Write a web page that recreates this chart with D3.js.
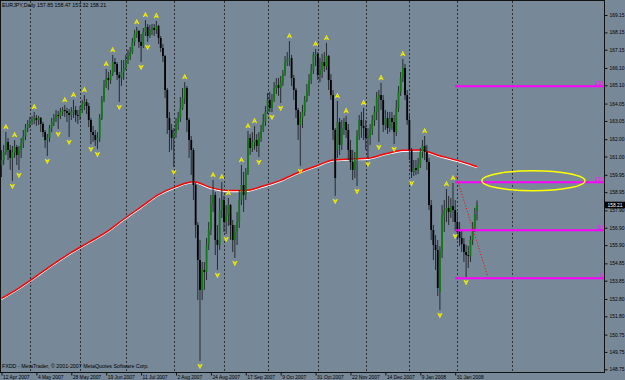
<!DOCTYPE html>
<html>
<head>
<meta charset="utf-8">
<script src="https://cdn.jsdelivr.net/npm/d3@7"></script>
<style>
body { margin: 0; background: #778899; }
svg { display: block; font-family: "Liberation Sans", Arial, sans-serif; }
</style>
</head>
<body>
<svg id="chart" width="625" height="380"></svg>
<script>
// EURJPY daily bars, 12 Apr 2007 .. 14 Feb 2008
var opens = [160.51,160.80,161.26,161.84,161.38,160.92,161.26,161.55,161.09,161.38,161.78,162.18,162.64,162.87,163.05,163.16,163.22,163.10,163.22,162.87,
  162.41,161.95,162.07,162.64,162.99,163.22,163.39,163.34,163.57,163.68,163.62,163.51,163.39,163.57,163.68,163.39,163.34,163.68,164.03,164.14,
  163.91,163.10,162.41,162.24,161.95,162.07,163.22,164.26,165.06,165.52,165.41,165.75,166.44,166.33,165.70,165.52,165.87,166.10,166.56,166.79,
  167.02,167.60,168.06,168.23,167.60,167.37,168.17,168.46,167.94,168.29,168.40,168.29,168.52,167.83,167.25,166.79,164.83,163.22,162.53,162.07,
  162.36,162.87,163.22,163.80,164.37,164.95,163.10,161.95,161.38,159.36,157.06,155.04,153.32,154.47,154.35,155.91,156.77,158.21,158.79,156.20,
  155.91,157.92,158.50,157.23,157.63,158.21,157.06,156.20,156.66,157.23,158.50,159.36,158.79,160.11,162.07,161.49,161.84,161.95,161.61,162.07,
  162.53,162.99,163.57,164.26,163.80,164.26,164.95,165.12,164.95,165.29,165.75,166.44,166.56,166.67,165.52,164.83,163.68,162.82,163.22,163.57,
  164.26,164.72,165.41,165.98,166.79,166.91,165.70,165.98,166.44,166.21,166.79,165.41,164.54,162.53,161.38,162.99,161.67,162.64,162.99,162.53,
  161.38,160.69,160.23,160.80,162.24,163.10,162.76,162.64,162.07,162.18,162.53,163.10,163.57,164.37,164.54,164.26,162.82,163.22,162.64,163.22,
  162.99,162.41,163.80,164.72,165.52,166.10,164.54,163.10,161.38,160.11,160.34,160.23,160.51,161.26,161.61,161.26,160.69,158.21,156.77,155.91,
  155.62,153.20,155.62,157.63,157.92,158.04,157.81,158.15,157.92,157.23,156.66,156.31,155.96,155.50,155.33,155.27,156.20,156.89,157.85];
var highs = [161.38,161.67,162.41,162.07,161.67,161.61,161.95,161.67,161.61,162.07,162.53,162.87,163.10,163.28,163.34,163.57,163.39,163.34,163.28,162.99,
  162.53,162.30,162.82,163.22,163.45,163.68,163.62,163.80,163.85,163.97,163.80,163.74,163.85,164.26,163.91,163.68,163.91,164.26,164.54,164.31,
  164.08,163.22,162.76,162.53,162.41,163.45,164.49,165.41,166.04,165.87,165.98,166.85,166.67,166.44,165.87,166.56,166.56,166.85,167.14,167.31,
  167.83,168.29,168.46,168.29,168.06,168.40,168.86,168.63,168.58,168.63,168.63,168.81,168.58,167.94,167.48,166.85,164.95,163.57,162.87,162.64,
  163.22,163.57,164.43,164.95,165.29,165.06,163.22,162.18,161.49,159.48,157.23,156.20,154.93,154.93,156.31,157.23,158.79,159.65,158.96,157.06,
  158.61,159.53,158.73,158.21,158.61,158.27,157.35,157.06,157.81,159.07,160.51,160.11,160.34,162.47,162.30,162.41,162.76,162.30,162.41,162.82,
  163.45,163.91,164.66,164.72,164.60,165.29,165.52,165.52,165.64,165.98,166.79,167.02,167.65,166.85,165.70,164.95,163.80,163.57,163.97,164.49,
  165.18,165.75,166.33,167.02,167.19,167.02,166.67,166.91,167.02,167.54,166.85,165.75,164.83,162.64,164.20,163.22,163.10,163.22,163.34,162.87,
  161.95,161.38,161.26,162.53,163.39,163.57,163.80,163.10,162.64,162.87,163.39,163.91,164.72,164.83,165.24,164.54,163.68,163.57,163.57,163.57,
  163.39,164.26,165.06,165.87,166.62,166.33,164.83,163.39,161.49,160.80,160.80,160.92,161.49,161.95,162.18,161.67,160.92,158.50,157.06,156.48,
  156.20,155.85,158.21,158.50,159.13,158.73,158.61,159.48,158.50,157.81,157.23,156.77,156.31,155.91,155.85,156.43,157.23,158.04,158.47];
var lows = [159.82,160.51,161.09,160.80,160.23,159.59,160.92,160.51,160.23,160.92,161.49,161.95,162.41,162.64,162.82,162.87,162.76,162.82,162.41,162.13,
  161.49,161.03,161.84,162.41,162.76,162.99,162.59,163.16,163.34,163.28,162.99,162.13,163.10,163.22,162.99,162.87,163.10,163.51,163.68,163.45,
  162.70,161.72,161.84,161.61,161.43,161.84,163.10,164.14,164.95,164.83,165.18,165.64,165.87,165.41,164.14,165.06,165.41,165.98,166.33,166.56,
  166.91,167.37,167.83,167.25,166.44,167.25,167.94,167.60,167.83,168.00,167.94,168.06,167.48,167.02,166.44,164.37,162.30,161.26,161.38,160.40,
  162.07,162.53,162.99,163.68,164.03,162.41,160.92,159.94,158.50,156.31,152.74,149.23,152.74,153.32,153.89,155.62,156.48,157.81,155.33,154.47,
  155.62,157.46,156.66,156.54,157.00,156.20,155.50,155.16,155.91,156.89,158.21,157.81,158.50,159.94,161.09,161.26,161.38,161.26,160.97,161.84,
  162.41,162.76,163.45,163.57,163.57,164.14,164.60,164.49,164.08,165.06,165.64,166.21,166.21,165.06,164.26,163.22,161.95,160.46,162.64,163.34,
  164.14,164.49,165.18,165.75,166.21,165.41,165.29,165.52,165.87,165.98,164.83,164.26,161.95,158.73,160.92,161.09,161.38,162.24,162.07,160.80,
  160.23,159.65,159.76,159.30,161.95,162.07,161.95,161.38,160.86,161.67,162.24,162.76,163.10,161.84,163.68,162.41,162.53,162.30,162.41,162.53,
  161.72,162.18,163.57,164.49,165.29,164.26,162.82,160.80,159.76,159.88,159.94,159.99,160.34,160.92,160.80,160.23,157.92,156.20,155.04,154.47,
  152.97,152.16,155.16,156.66,157.23,157.06,157.46,157.23,156.71,156.20,155.85,155.50,154.93,154.06,154.58,154.93,155.91,156.66,157.32];
var closes = [160.80,161.26,161.84,161.38,160.92,161.26,161.55,161.09,161.38,161.78,162.18,162.64,162.87,163.05,163.16,163.22,163.10,163.22,162.87,162.41,
  161.95,162.07,162.64,162.99,163.22,163.39,163.34,163.57,163.68,163.62,163.51,163.39,163.57,163.68,163.39,163.34,163.68,164.03,164.14,163.91,
  163.10,162.41,162.24,161.95,162.07,163.22,164.26,165.06,165.52,165.41,165.75,166.44,166.33,165.70,165.52,165.87,166.10,166.56,166.79,167.02,
  167.60,168.06,168.23,167.60,167.37,168.17,168.46,167.94,168.29,168.40,168.29,168.52,167.83,167.25,166.79,164.83,163.22,162.53,162.07,162.36,
  162.87,163.22,163.80,164.37,164.95,163.10,161.95,161.38,159.36,157.06,155.04,153.32,154.47,154.35,155.91,156.77,158.21,158.79,156.20,155.91,
  157.92,158.50,157.23,157.63,158.21,157.06,156.20,156.66,157.23,158.50,159.36,158.79,160.11,162.07,161.49,161.84,161.95,161.61,162.07,162.53,
  162.99,163.57,164.26,163.80,164.26,164.95,165.12,164.95,165.29,165.75,166.44,166.56,166.67,165.52,164.83,163.68,162.82,163.22,163.57,164.26,
  164.72,165.41,165.98,166.85,166.91,165.70,165.98,166.44,166.21,166.79,165.41,164.54,162.53,159.76,162.99,161.67,162.64,162.99,162.53,161.38,
  160.69,160.23,160.80,162.24,163.10,162.76,162.64,162.07,162.18,162.53,163.10,163.57,164.37,164.54,164.26,162.82,163.22,162.64,163.22,162.99,
  162.41,163.80,164.72,165.52,166.10,164.54,163.10,161.38,160.11,160.34,160.23,160.51,161.26,161.61,161.26,160.69,158.21,156.77,155.91,155.62,
  153.43,155.62,157.63,157.92,158.04,157.81,158.15,157.92,157.23,156.66,156.31,155.96,155.50,155.33,155.27,156.20,156.89,157.69,158.21];

// fractal bars (arrow above high / below low)
var fractalUp = [2,6,15,29,33,38,48,51,62,66,71,84,97,101,104,110,113,116,132,144,149,154,158,166,174,184,194,204,207];
var fractalDown = [5,8,21,26,31,41,44,54,64,67,79,91,99,103,107,118,124,128,137,153,163,168,173,180,188,201,208,213];

// moving average, sampled bars
var maBars = [0,8,16,24,32,40,48,56,64,72,80,88,96,104,112,120,128,136,144,152,160,168,176,184,192,200,208,216,218];
var maVals = [152.83,153.43,154.12,154.82,155.48,156.06,156.65,157.39,158.10,158.81,159.27,159.55,159.21,159.04,159.05,159.30,159.63,160.08,160.44,160.80,
  160.86,160.90,161.16,161.36,161.38,161.08,160.81,160.50,160.41];

// fibo expansion
var fibFromBar = 208;
var fibZero = 153.99, fibHundred = 159.52;
var fibLevels = [0, 50, 100, 200];

// drawn objects
var trendBars = [208.6, 222.7], trendPrices = [159.84, 154.18];
var ellipseBars = [220.2, 267.5], ellipsePrices = [160.18, 159.03];

var priceTicks = [169.15,168.15,167.15,166.10,165.10,164.05,163.05,162.00,161.00,159.95,158.95,157.90,156.90,155.90,154.85,153.85,152.80,151.80,150.75,149.75,148.75];
var timeLabels = ["12 Apr 2007","4 May 2007","28 May 2007","19 Jun 2007","11 Jul 2007","2 Aug 2007","24 Aug 2007","17 Sep 2007","9 Oct 2007","31 Oct 2007","22 Nov 2007","14 Dec 2007","9 Jan 2008","31 Jan 2008"];
var monthStarts = ["2007-05-01","2007-06-01","2007-07-02","2007-08-01","2007-09-03","2007-10-01","2007-11-01","2007-12-03","2008-01-02","2008-02-01","2008-03-01"];
var holidays = ["2007-12-25","2008-01-01"];

var title = "EURJPY,Daily  157.85 158.47 157.32 158.21";
var copyright = "FXDD - MetaTrader, \u00a9 2001-2007 MetaQuotes Software Corp.";

// bar dates: weekdays, then calendar days into the future (as the terminal does)
var keyFmt = d3.timeFormat("%Y-%m-%d");
var dates = [];
var d = new Date(2007, 3, 12);
while (dates.length < closes.length) {
  var wd = d.getDay();
  if (wd !== 0 && wd !== 6 && holidays.indexOf(keyFmt(d)) < 0) dates.push(d);
  d = d3.timeDay.offset(d, 1);
}
var lastDate = dates[dates.length - 1];
for (var k = 1; k <= 60; k++) dates.push(d3.timeDay.offset(lastDate, k));

var plotR = 604, plotB = 372;
var x = d3.scaleLinear().domain([0, closes.length - 1]).range([1.5, 477]);
var y = d3.scaleLinear().domain([148.75, 169.15]).range([369.3, 15]);

var svg = d3.select("#chart");
svg.append("rect").attr("width", 625).attr("height", 380).attr("fill", "#778899");

svg.append("clipPath").attr("id", "plot")
  .append("rect").attr("x", 0).attr("y", 1).attr("width", plotR).attr("height", plotB - 1);
var plot = svg.append("g").attr("clip-path", "url(#plot)");

// month separators
var labelFmt = d3.timeFormat("%-d %b %Y");
var sepIdx = monthStarts.map(function(s) {
  return dates.findIndex(function(dd) { return keyFmt(dd) === s; });
});
plot.selectAll("line.grid")
  .data(sepIdx)
  .enter().append("line")
  .attr("class", "grid")
  .attr("x1", function(i) { return Math.round(x(i)) + 0.5; })
  .attr("x2", function(i) { return Math.round(x(i)) + 0.5; })
  .attr("y1", 1).attr("y2", plotB)
  .attr("stroke", "#1a1a1a")
  .attr("stroke-dasharray", "2,2")
  .attr("stroke-width", 0.8);

// moving average (white under red)
var maPts = maBars.map(function(b, i) { return [b, maVals[i]]; });
var maLine = d3.line()
  .x(function(p) { return x(p[0]); })
  .y(function(p) { return y(p[1]); })
  .curve(d3.curveMonotoneX);
plot.append("path").datum(maPts).attr("d", maLine)
  .attr("fill", "none").attr("stroke", "#ffffff").attr("stroke-width", 1.2)
  .attr("transform", "translate(0,1)");
plot.append("path").datum(maPts).attr("d", maLine)
  .attr("fill", "none").attr("stroke", "#ff0000").attr("stroke-width", 1.5);

// candles
var bars = closes.map(function(c, i) {
  return { i: i, o: opens[i], h: highs[i], l: lows[i], c: c };
});
var candle = plot.selectAll("g.candle")
  .data(bars)
  .enter().append("g")
  .attr("class", "candle");
candle.append("line")
  .attr("x1", function(b) { return x(b.i); })
  .attr("x2", function(b) { return x(b.i); })
  .attr("y1", function(b) { return y(b.h); })
  .attr("y2", function(b) { return y(b.l); })
  .attr("stroke", "#262b31")
  .attr("stroke-width", 1);
candle.append("rect")
  .attr("x", function(b) { return x(b.i) - 0.9; })
  .attr("width", 1.8)
  .attr("y", function(b) { return y(Math.max(b.o, b.c)); })
  .attr("height", function(b) { return Math.max(0.8, Math.abs(y(b.o) - y(b.c))); })
  .attr("fill", function(b) { return b.c >= b.o ? "#117a11" : "#000000"; });

// fractal arrows
plot.selectAll("path.fup")
  .data(fractalUp)
  .enter().append("path")
  .attr("class", "fup")
  .attr("transform", function(i) { return "translate(" + x(i) + "," + (y(highs[i]) - 5) + ")"; })
  .attr("d", "M-2.1,2L0,-2.1L2.1,2M-1.1,0.7L1.1,0.7")
  .attr("fill", "none").attr("stroke", "#f2ec00").attr("stroke-width", 1.1);
plot.selectAll("path.fdn")
  .data(fractalDown)
  .enter().append("path")
  .attr("class", "fdn")
  .attr("transform", function(i) { return "translate(" + x(i) + "," + (y(lows[i]) + 5) + ")"; })
  .attr("d", "M-2.1,-2L0,2.1L2.1,-2M-1.1,-0.7L1.1,-0.7")
  .attr("fill", "none").attr("stroke", "#f2ec00").attr("stroke-width", 1.1);

// fibo lines
var fibPrice = function(lv) { return fibZero + (fibHundred - fibZero) * lv / 100; };
plot.selectAll("line.fib")
  .data(fibLevels)
  .enter().append("line")
  .attr("class", "fib")
  .attr("x1", x(fibFromBar)).attr("x2", plotR)
  .attr("y1", function(lv) { return y(fibPrice(lv)); })
  .attr("y2", function(lv) { return y(fibPrice(lv)); })
  .attr("stroke", "#ff00ff").attr("stroke-width", 2);
plot.selectAll("text.fib")
  .data(fibLevels)
  .enter().append("text")
  .attr("class", "fib")
  .attr("x", plotR - 1)
  .attr("y", function(lv) { return y(fibPrice(lv)) - 1.5; })
  .attr("text-anchor", "end")
  .attr("font-size", 4.8)
  .attr("fill", "#ff00ff")
  .text(function(lv) { return lv; });

// trend line and ellipse
plot.append("line")
  .attr("x1", x(trendBars[0])).attr("y1", y(trendPrices[0]))
  .attr("x2", x(trendBars[1])).attr("y2", y(trendPrices[1]))
  .attr("stroke", "#ff0000").attr("stroke-width", 1)
  .attr("stroke-dasharray", "1,2");
plot.append("ellipse")
  .attr("cx", (x(ellipseBars[0]) + x(ellipseBars[1])) / 2)
  .attr("cy", (y(ellipsePrices[0]) + y(ellipsePrices[1])) / 2)
  .attr("rx", (x(ellipseBars[1]) - x(ellipseBars[0])) / 2)
  .attr("ry", (y(ellipsePrices[1]) - y(ellipsePrices[0])) / 2)
  .attr("fill", "none").attr("stroke", "#ffff00").attr("stroke-width", 1.5);

// texts inside the plot
svg.append("text").attr("x", 2).attr("y", 7.2)
  .attr("font-size", 5.3).attr("fill", "#000").text(title);
svg.append("text").attr("x", 2).attr("y", 367.8)
  .attr("font-size", 5.3).attr("fill", "#000").text(copyright);

// frame
svg.append("rect").attr("x", 0.5).attr("y", 0.5)
  .attr("width", plotR).attr("height", plotB)
  .attr("fill", "none").attr("stroke", "#111").attr("stroke-width", 1);

// price axis
var yAxis = svg.append("g")
  .attr("transform", "translate(" + (plotR + 0.5) + ",0)")
  .call(d3.axisRight(y).tickValues(priceTicks).tickSize(3).tickPadding(2)
    .tickFormat(d3.format(".2f")));
yAxis.select(".domain").remove();
yAxis.selectAll("line").attr("stroke", "#111");
yAxis.selectAll("text").attr("font-size", 4.9).attr("fill", "#000")
  .attr("font-family", "Liberation Sans, Arial, sans-serif");

// current price
var last = closes[closes.length - 1];
svg.append("rect").attr("x", plotR + 1).attr("y", y(last) - 3.3)
  .attr("width", 20).attr("height", 6.6).attr("fill", "#000");
svg.append("text").attr("x", plotR + 3.5).attr("y", y(last) + 1.7)
  .attr("font-size", 4.9).attr("fill", "#fff").text(d3.format(".2f")(last));

// time axis
var labelIdx = timeLabels.map(function(s) {
  return dates.findIndex(function(dd) { return labelFmt(dd) === s; });
});
var xAxis = svg.append("g")
  .attr("transform", "translate(0," + (plotB + 0.5) + ")")
  .call(d3.axisBottom(x).tickValues(labelIdx).tickSize(3).tickPadding(0.5)
    .tickFormat(function(i) { return labelFmt(dates[i]); }));
xAxis.select(".domain").remove();
xAxis.selectAll("line").attr("stroke", "#111");
xAxis.selectAll("text")
  .attr("text-anchor", "start")
  .attr("x", 1)
  .attr("font-size", 4.9).attr("fill", "#000")
  .attr("font-family", "Liberation Sans, Arial, sans-serif");
</script>
</body>
</html>
